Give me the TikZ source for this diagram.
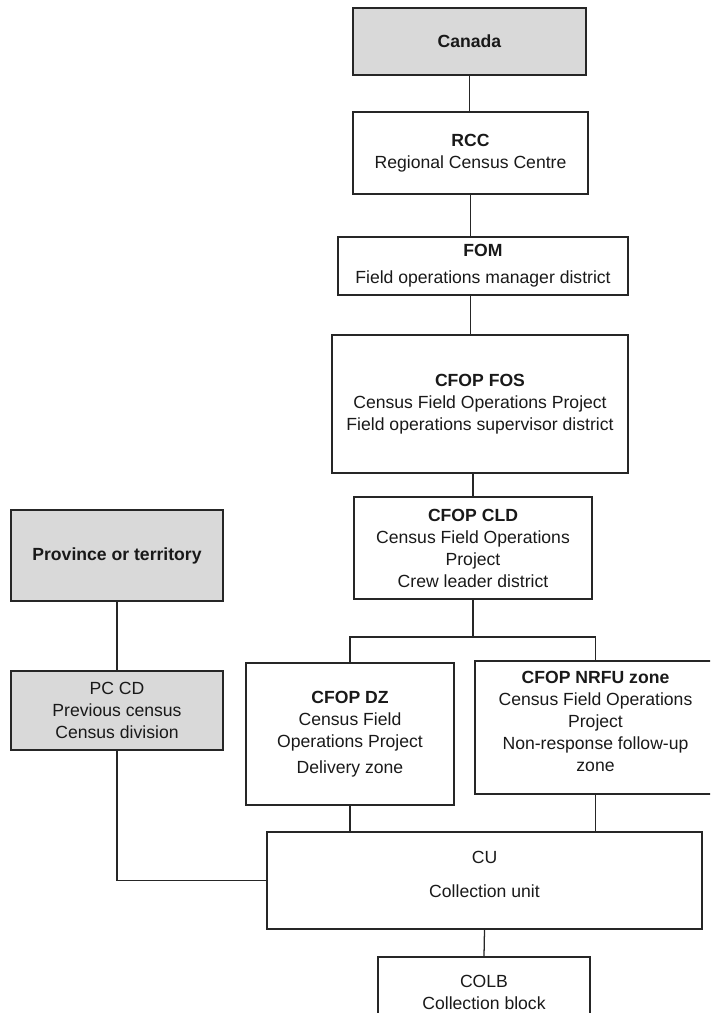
\documentclass[tikz,border=0pt]{standalone}
\usepackage{fontspec}
\setmainfont{Liberation Sans}
\definecolor{boxgray}{RGB}{217,217,217}
\newcommand\mybox[7][]{\node[draw, #1, minimum width={#5*0.75pt}, minimum height={#6*0.75pt}] (#2) at (#3,#4) {#7} ; }

\begin{document}
\begin{tikzpicture}[x=0.75pt, y=-0.75pt, line width=0.95pt, draw=black!85,
    every node/.style={align=center, inner sep=0pt, text=black!90, font=\fontsize{13.2}{16.5}\selectfont}]
    	\useasboundingbox (0,0) rectangle (710,1013);
    	\clip (0,0) rectangle (710,1013);

    	% top of the chain
    	\mybox[fill=boxgray]{canada}{469.5}{41.5}{233}{67}{\textbf{Canada}}
    	\mybox{rcc}{470.5}{153}{235}{82}{\textbf{RCC}\\Regional Census Centre}
    	\draw (canada.south) -- (canada.south |- rcc.north);

    	% FOM
    	\mybox{fom}{483}{266}{290}{58}{\textbf{FOM}\\[4pt]Field operations manager district}
    	\draw (rcc.south) -- (rcc.south |- fom.north);

    	% FOS
    	\mybox{fos}{480}{404}{296}{138}{\textbf{CFOP FOS}\\Census Field Operations Project\\Field operations supervisor district}
    	\draw (fom.south -| rcc.south) -- (rcc.south |- fos.north);

    	% CLD
    	\mybox{cld}{473}{548}{238}{102}{\textbf{CFOP CLD}\\Census Field Operations\\Project\\Crew leader district}
    	\draw (fos.south -| cld.north) -- (cld.north);

    	% split to DZ and NRFU
    	\coordinate (split) at (473,637);
    	\mybox{dz}{350}{734}{208}{142}{\textbf{CFOP DZ}\\Census Field\\Operations Project\\[3pt]Delivery zone}
    	\mybox{nrfu}{595.5}{727.5}{241}{133}{\textbf{CFOP NRFU zone}\\Census Field Operations\\Project\\Non-response follow-up\\zone\\[-8pt]\mbox{}}
    	\draw (cld.south) -- (split);
    	\draw (dz.north) |- (split) -| (nrfu.north);

    	% left side, province
    	\mybox[fill=boxgray]{prov}{117}{555.5}{212}{91}{\textbf{Province or territory}}
    	\mybox[fill=boxgray]{pccd}{117}{710.5}{212}{79}{PC CD\\Previous census\\Census division}
    	\draw (prov.south) -- (pccd.north);

    	% CU
    	\mybox{cu}{484.5}{880.5}{435}{97}{CU\\[9pt]Collection unit\\[-8pt]\mbox{}}
    	\draw (dz.south) -- (dz.south |- cu.north);
    	\draw (nrfu.south) -- (nrfu.south |- cu.north);
    	\draw (pccd.south) |- (cu.west);

    	% COLB, cut at the bottom
    	\mybox{colb}{484}{992}{212}{70}{COLB\\Collection block}
    	\draw (cu.south) -- (colb.north);
\end{tikzpicture}
\end{document}
